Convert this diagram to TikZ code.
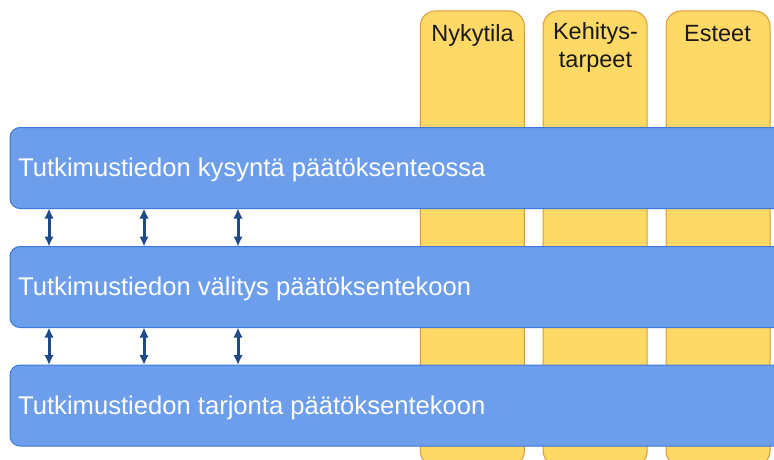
\documentclass[tikz,border=0pt]{standalone}
\usepackage{fontspec}
\setmainfont{Liberation Sans}
\usetikzlibrary{arrows.meta}
\definecolor{barfill}{HTML}{6D9EEB}
\definecolor{barline}{HTML}{3C78D8}
\definecolor{colfill}{HTML}{FFD966}
\definecolor{colline}{HTML}{D99A3A}
\definecolor{arrcol}{HTML}{1F4A8A}
\tikzset{
  bar/.style={draw=barline, fill=barfill, line width=1pt, rounded corners=10pt,
    minimum width=780pt, minimum height=81pt, inner sep=0pt},
  column/.style={draw=colline, fill=colfill, line width=1pt, rounded corners=15pt,
    minimum width=104pt, minimum height=455pt, inner sep=0pt},
  bartext/.style={text=white, anchor=base west, inner sep=0pt, font=\fontsize{25.6}{30}\selectfont},
  coltext/.style={text=black!90, anchor=base, inner sep=0pt, align=center, font=\fontsize{23.5}{28}\selectfont},
  arr/.style={draw=arrcol, line width=3pt, {Latex[length=10pt,width=9.5pt]}-{Latex[length=10pt,width=9.5pt]}, shorten <=-0.5pt, shorten >=-0.5pt}
}
\begin{document}
\begin{tikzpicture}[x=1pt,y=-1pt]
\useasboundingbox (0,0) rectangle (774,460);
\clip (0,0) rectangle (774,460);
% columns
\node[column] (c1) at (472.3,238.5) {};
\node[column] (c2) at (595.2,238.5) {};
\node[column] (c3) at (718,238.5) {};
\node[coltext] (t1) at (472.5,41.5) {Nykytila};
\node[coltext] (t2) at (595.5,40) {Kehitys-};
\node[coltext] (t2b) at (595.5,68) {tarpeet};
\node[coltext] (t3) at (717.5,41.5) {Esteet};
% bars
\node[bar] (b1) at (400,168) {};
\node[bar] (b2) at (400,287) {};
\node[bar] (b3) at (400,405.5) {};
\node[bartext] (l1) at (18,176.7) {Tutkimustiedon kysyntä päätöksenteossa};
\node[bartext] (l2) at (18,295.7) {Tutkimustiedon välitys päätöksentekoon};
\node[bartext] (l3) at (18,414.2) {Tutkimustiedon tarjonta päätöksentekoon};
% arrows
\coordinate (x1) at (49,0);
\coordinate (x2) at (144,0);
\coordinate (x3) at (238,0);
\foreach \x in {x1,x2,x3}{
  \draw[arr] (b1.south -| \x) -- (b2.north -| \x);
  \draw[arr] (b2.south -| \x) -- (b3.north -| \x);
}
\end{tikzpicture}
\end{document}
